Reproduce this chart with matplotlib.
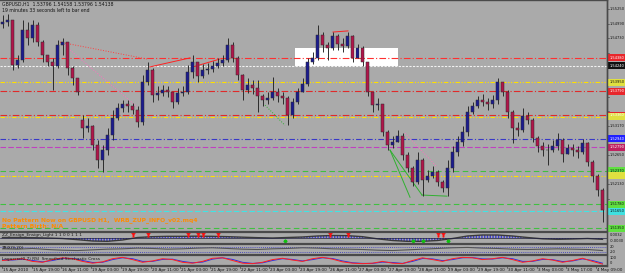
import matplotlib
matplotlib.use('Agg')
import matplotlib.pyplot as plt
from matplotlib.patches import Rectangle
from matplotlib.transforms import blended_transform_factory
from matplotlib.lines import Line2D

# ---------------- data ----------------
title_line = "GBPUSD,H1  1.53796 1.54158 1.53796 1.54138"
timer_line = "19 minutes 33 seconds left to bar end"
info_line1 = "No Pattern Now on GBPUSD H1,  WRB_ZUP_INFO_v02.mq4"
info_line2 = "Pattern Birth: N/A"

first_open = 1.5498
gap_opens = {16: 1.5327}

closes = [1.5502, 1.5505, 1.5425, 1.5434, 1.5488, 1.5473, 1.5496, 1.5466, 1.5443, 1.5431,
          1.5424, 1.5461, 1.5466, 1.5420, 1.5402, 1.5377, 1.5313, 1.5317, 1.5283, 1.5256,
          1.5274, 1.5301, 1.5331, 1.5349, 1.5356, 1.5352, 1.5345, 1.5324, 1.5395, 1.5416,
          1.5372, 1.5375, 1.5381, 1.5377, 1.5359, 1.5375, 1.5377, 1.5413, 1.5431, 1.5406,
          1.5416, 1.5418, 1.5424, 1.5429, 1.5434, 1.5461, 1.5438, 1.5407, 1.5381, 1.5390,
          1.5384, 1.5370, 1.5363, 1.5367, 1.5377, 1.5370, 1.5367, 1.5336, 1.5359, 1.5377,
          1.5391, 1.5431, 1.5438, 1.5479, 1.5461, 1.5456, 1.5477, 1.5463, 1.5459, 1.5477,
          1.5438, 1.5456, 1.5431, 1.5377, 1.5354, 1.5356, 1.5306, 1.5283, 1.5288, 1.5299,
          1.5265, 1.5242, 1.5217, 1.5256, 1.5221, 1.5228, 1.5235, 1.5217, 1.5206, 1.5242,
          1.5270, 1.5288, 1.5306, 1.5342, 1.5352, 1.5363, 1.5359, 1.5356, 1.5363, 1.5395,
          1.5377, 1.5342, 1.5313, 1.5310, 1.5335, 1.5327, 1.5295, 1.5281, 1.5274, 1.5274,
          1.5281, 1.5292, 1.5267, 1.5278, 1.5274, 1.5270, 1.5286, 1.5253, 1.5228, 1.5203,
          1.5167]
highs = [1.5514, 1.5516, 1.5479, 1.5443, 1.5505, 1.5502, 1.5505, 1.5502, 1.5470, 1.5443,
         1.5438, 1.5470, 1.5473, 1.5461, 1.5424, 1.5402, 1.5336, 1.5331, 1.5318, 1.5292,
         1.5283, 1.5313, 1.5345, 1.5358, 1.5363, 1.5363, 1.5358, 1.5352, 1.5407, 1.5431,
         1.5420, 1.5388, 1.5390, 1.5388, 1.5377, 1.5384, 1.5388, 1.5425, 1.5443, 1.5431,
         1.5427, 1.5429, 1.5432, 1.5438, 1.5443, 1.5473, 1.5466, 1.5441, 1.5409, 1.5402,
         1.5399, 1.5399, 1.5374, 1.5377, 1.5404, 1.5384, 1.5377, 1.5370, 1.5367, 1.5384,
         1.5402, 1.5438, 1.5448, 1.5496, 1.5484, 1.5466, 1.5484, 1.5480, 1.5473, 1.5484,
         1.5479, 1.5463, 1.5459, 1.5431, 1.5377, 1.5367, 1.5356, 1.5310, 1.5299, 1.5310,
         1.5304, 1.5270, 1.5246, 1.5270, 1.5260, 1.5238, 1.5246, 1.5238, 1.5221, 1.5256,
         1.5281, 1.5299, 1.5317, 1.5352, 1.5359, 1.5370, 1.5374, 1.5367, 1.5372, 1.5402,
         1.5391, 1.5381, 1.5345, 1.5324, 1.5349, 1.5342, 1.5331, 1.5299, 1.5288, 1.5285,
         1.5292, 1.5304, 1.5295, 1.5285, 1.5285, 1.5281, 1.5294, 1.5288, 1.5256, 1.5231,
         1.5206]
lows = [1.5491, 1.5495, 1.5416, 1.5420, 1.5431, 1.5461, 1.5466, 1.5459, 1.5431, 1.5424,
        1.5381, 1.5420, 1.5443, 1.5407, 1.5390, 1.5372, 1.5295, 1.5306, 1.5274, 1.5242,
        1.5235, 1.5265, 1.5292, 1.5327, 1.5342, 1.5342, 1.5338, 1.5315, 1.5318, 1.5390,
        1.5359, 1.5363, 1.5370, 1.5368, 1.5349, 1.5356, 1.5370, 1.5374, 1.5402, 1.5395,
        1.5402, 1.5409, 1.5413, 1.5420, 1.5424, 1.5431, 1.5431, 1.5399, 1.5363, 1.5375,
        1.5374, 1.5342, 1.5352, 1.5356, 1.5363, 1.5359, 1.5356, 1.5318, 1.5331, 1.5356,
        1.5377, 1.5388, 1.5427, 1.5434, 1.5448, 1.5434, 1.5452, 1.5452, 1.5448, 1.5456,
        1.5431, 1.5438, 1.5424, 1.5370, 1.5342, 1.5345, 1.5299, 1.5274, 1.5278, 1.5288,
        1.5256, 1.5235, 1.5210, 1.5213, 1.5192, 1.5217, 1.5224, 1.5210, 1.5199, 1.5192,
        1.5235, 1.5263, 1.5281, 1.5299, 1.5338, 1.5349, 1.5352, 1.5345, 1.5349, 1.5356,
        1.5370, 1.5331, 1.5286, 1.5299, 1.5306, 1.5320, 1.5288, 1.5270, 1.5263, 1.5247,
        1.5270, 1.5274, 1.5253, 1.5267, 1.5263, 1.5260, 1.5267, 1.5246, 1.5217, 1.5192,
        1.5146]

level_prices = [1.5438, 1.5424, 1.5395, 1.5379, 1.5336, 1.5333, 1.5294, 1.5279,
                1.5237, 1.5228, 1.5178, 1.5165, 1.5135]
level_colors = ['#ff3030', '#f2f2f2', '#ffe000', '#e02a2a', '#e02a2a', '#ffe000', '#3838c8',
                '#c040c0', '#40c040', '#ffe000', '#40c040', '#40e4e4', '#40c040']
level_box_colors = ['#e8262b', '#101010', '#e0e040', '#e8262b', '#e8262b', '#e0e040', '#2020ff',
                    '#c02060', '#60e040', '#e0e040', '#60e040', '#40e0e0', '#60e040']
level_styles = [(0, (6, 2, 1, 2)), (0, (2, 1.2)), (0, (4, 1.5, 1, 1.5, 1, 1.5)), (0, (6, 2, 1, 2)),
                (0, (6, 2, 1, 2)), (0, (4, 1.5, 1, 1.5, 1, 1.5)), (0, (5, 2, 1, 2)), (0, (5, 2)),
                (0, (5, 3)), (0, (4, 1.5, 1, 1.5, 1, 1.5)), (0, (5, 3)), (0, (5, 2)), (0, (5, 3))]

# trend lines: (x0, p0, x1, p1, color, style)
trend_lines = [
    (11.5, 1.5466, 28.9, 1.5436, '#ff4040', ':'),
    (11.9, 1.5464, 26.9, 1.5351, '#ff70c0', ':'),
    (29.5, 1.5422, 37.5, 1.5438, '#ff2020', '-'),
    (38.1, 1.5422, 43.5, 1.5436, '#ff2020', '-'),
    (66.1, 1.5484, 69.1, 1.5486, '#ff2020', '-'),
    (52.5, 1.5354, 56.5, 1.5318, '#30b030', ':'),
    (77.5, 1.5274, 81.5, 1.5190, '#30b030', '-'),
    (77.5, 1.5274, 83.9, 1.5194, '#30b030', '-'),
    (83.9, 1.5194, 88.9, 1.5192, '#30b030', '-'),
    (80.5, 1.5304, 86.9, 1.5244, '#ff70c0', ':'),
]
zone_bars = (58.5, 79.1)
zone_prices = (1.5424, 1.5456)

price_ticks = [1.5525, 1.5499, 1.5473, 1.5447, 1.5421, 1.5395, 1.5369, 1.5343,
               1.5317, 1.5291, 1.5265, 1.5239, 1.5213, 1.5187, 1.5161]

time_labels = ["15 Apr 2010", "15 Apr 19:00", "16 Apr 11:00", "19 Apr 03:00", "19 Apr 19:00",
               "20 Apr 11:00", "21 Apr 03:00", "21 Apr 19:00", "22 Apr 11:00", "23 Apr 03:00",
               "23 Apr 19:00", "26 Apr 11:00", "27 Apr 03:00", "27 Apr 19:00", "28 Apr 11:00",
               "29 Apr 03:00", "29 Apr 19:00", "30 Apr 11:00", "3 May 03:00", "3 May 17:00",
               "4 May 09:00"]

# indicator 1 (41 points, every 3 bars)
osc1 = [0.3, 0.3, 0.2, 0.0, -0.3, -1.0, -1.8, -2.0, -1.2, 0.3, 0.8, 1.0, 1.0, 1.1, 1.0,
        0.8, 0.5, 0.2, 0.0, 0.3, 0.6, 1.2, 1.5, 1.4, 0.8, -0.5, -1.5, -2.0, -2.0, -1.5,
        -0.3, 1.2, 1.8, 1.8, 1.2, 0.3, -0.5, -0.8, -0.6, -0.3, -0.8]
red_marks = [26, 29, 37, 39, 40, 43, 65.5, 69, 87, 88]
green_marks = [56.5, 82, 84, 89]

# indicator 2 (41 points)
trix = [0.2, 0.1, 0.3, 0.0, -0.2, -0.3, -0.1, 0.1, 0.2, 0.4, 0.3, 0.1, 0.2, 0.4, 0.5,
        0.3, 0.1, 0.0, 0.2, 0.3, 0.5, 0.4, 0.2, 0.1, 0.0, -0.2, -0.3, -0.1, 0.1, 0.3,
        0.5, 0.6, 0.4, 0.3, 0.1, 0.0, 0.1, 0.2, 0.1, 0.0, -0.3]

# indicator 3 (61 points, every 2 bars)
osc3_red = [50, 60, 70, 40, 30, 60, 80, 70, 40, 20, 35, 70, 85, 60, 30, 45, 70, 60, 30, 20,
            40, 75, 80, 50, 20, 15, 30, 60, 75, 55, 40, 70, 85, 65, 35, 20, 15, 20, 40, 20,
            15, 50, 80, 60, 40, 70, 85, 80, 60, 70, 85, 60, 30, 45, 70, 55, 30, 50, 75, 40, 10]
osc3_blue = [55, 55, 65, 50, 35, 50, 72, 74, 50, 28, 30, 60, 80, 70, 40, 40, 62, 65, 40, 25,
             32, 65, 80, 62, 30, 18, 24, 50, 70, 62, 45, 60, 80, 72, 45, 25, 18, 18, 32, 28,
             18, 40, 72, 68, 48, 60, 80, 82, 68, 66, 80, 70, 40, 40, 62, 60, 38, 45, 68, 50, 20]

# ---------------- drawing ----------------
W, H = 625, 273
BG = '#aaaaaa'
UP = '#1c1c8e'
DN = '#b0164a'
WICK = '#2c2c2c'
SEP = '#4a4a4a'
TXT = '#141414'
AXFS = 2.6

fig = plt.figure(figsize=(W / 100, H / 100), dpi=100, facecolor=BG)


def rect(x0, y0, x1, y1):
    return [x0 / W, 1 - y1 / H, (x1 - x0) / W, (y1 - y0) / H]


def fy(y):
    return 1 - y / H


def fx(x):
    return x / W


ax = fig.add_axes(rect(0, 0, 607, 231))
ax.set_facecolor(BG)
n = len(closes)
ax.set_xlim(-0.5, 120.9)
ax.set_ylim(1.5130, 1.5541)
for s in ['left', 'bottom']:
    ax.spines[s].set_visible(False)
for s in ['top', 'right']:
    ax.spines[s].set_color(SEP)
    ax.spines[s].set_linewidth(1.0)
ax.set_xticks([])
ax.set_yticks([])

# zone rectangle
ax.add_patch(Rectangle((zone_bars[0], zone_prices[0]), zone_bars[1] - zone_bars[0],
                       zone_prices[1] - zone_prices[0], fc='white', ec='none', zorder=1))

# horizontal levels
for p, c, ls in zip(level_prices, level_colors, level_styles):
    ax.axhline(p, color=c, lw=0.8, ls=ls, zorder=2)

# trend lines
for x0, p0, x1, p1, c, ls in trend_lines:
    ax.plot([x0, x1], [p0, p1], color=c, lw=0.7, ls=ls, zorder=3)

# candles
opens = [first_open] + closes[:-1]
for k, v in gap_opens.items():
    opens[k] = v
for i in range(n):
    o, c, hi, lo = opens[i], closes[i], highs[i], lows[i]
    ax.vlines(i, lo, hi, color=WICK, lw=0.7, zorder=4)
    col = UP if c >= o else DN
    bot = min(o, c)
    hgt = max(abs(c - o), 0.00010)
    ax.add_patch(Rectangle((i - 0.32, bot), 0.64, hgt, fc=col, ec=WICK, lw=0.35, zorder=5))

# right price axis
tr = blended_transform_factory(ax.transAxes, ax.transData)
bh = 0.00125
for p in price_ticks:
    ax.plot([1.0, 1.004], [p, p], transform=tr, color=SEP, lw=0.5, clip_on=False)
    if min(abs(p - q) for q in level_prices) < 0.0012:
        continue  # covered by a coloured level box, as in the terminal
    ax.text(1.005, p, f"{p:.5f}", transform=tr, fontsize=AXFS, color=TXT,
            va='center', ha='left', clip_on=False)
shown = []
for p, bc in zip(level_prices, level_box_colors):
    ax.add_patch(Rectangle((1.002, p - bh / 2), 0.028, bh, transform=tr, fc=bc, ec='none',
                           clip_on=False, zorder=6))
    if any(abs(p - q) < 0.0010 for q in shown):
        continue
    shown.append(p)
    light = bc in ('#e0e040', '#60e040', '#40e0e0')
    ax.text(1.005, p, f"{p:.5f}", transform=tr, fontsize=AXFS,
            color='#101010' if light else 'white', va='center', ha='left',
            clip_on=False, zorder=7)

# overlay texts
fig.text(fx(2), fy(4.5), title_line, fontsize=3.3, color=TXT, va='center', ha='left')
fig.text(fx(2), fy(10.5), timer_line, fontsize=3.3, color=TXT, va='center', ha='left')
fig.text(fx(2), fy(220.5), info_line1, fontsize=4.3, color='#ff8c00', fontweight='bold',
         va='center', ha='left')
fig.text(fx(2), fy(226.5), info_line2, fontsize=4.3, color='#ff8c00', fontweight='bold',
         va='center', ha='left')

# ---------- sub panel 1 ----------
xs41 = [3 * k for k in range(len(osc1))]
a1 = fig.add_axes(rect(0, 233, 607, 243))
a1.set_facecolor(BG)
a1.set_xlim(-0.5, 120.9)
a1.set_ylim(-3.0, 3.0)
a1.fill_between(xs41, 0, osc1, facecolor='none', edgecolor='#3a3ad0', hatch='||||||', lw=0)
a1.plot(xs41, osc1, color='#3a3a3a', lw=1.0)
a1.axhline(0, color='#202040', lw=0.5)
a1.plot(red_marks, [2.2] * len(red_marks), ls='none', marker='$\u2191$', ms=3.5, color='#ff1010')
a1.plot(green_marks, [-2.2] * len(green_marks), ls='none', marker='$\u2191$', ms=3.5, color='#10c010')
a1.text(0.003, 0.8, "ZZ_Ensign_Ensign_Light 1 1 0 0 1 1 1", transform=a1.transAxes,
        fontsize=3.1, color=TXT, va='center')
a1.text(1.005, 0.75, "0.0032", transform=a1.transAxes, fontsize=AXFS, color=TXT, va='center', clip_on=False)
a1.text(1.005, 0.25, "-0.0030", transform=a1.transAxes, fontsize=AXFS, color=TXT, va='center', clip_on=False)

# ---------- sub panel 2 ----------
a2 = fig.add_axes(rect(0, 245, 607, 254))
a2.set_facecolor(BG)
a2.set_xlim(-0.5, 120.9)
a2.set_ylim(-1.3, 1.3)
a2.axhline(0.8, color='#3030c0', lw=0.6, ls=(0, (1, 1.5)))
a2.axhline(-0.8, color='#3030c0', lw=0.6, ls=(0, (1, 1.5)))
a2.plot(xs41, trix, color='#555555', lw=0.8)
a2.text(0.003, 0.72, "TRIX(9,20)", transform=a2.transAxes, fontsize=3.1, color=TXT, va='center')
a2.text(1.005, 0.75, "20", transform=a2.transAxes, fontsize=AXFS, color=TXT, va='center', clip_on=False)
a2.text(1.005, 0.25, "-20", transform=a2.transAxes, fontsize=AXFS, color=TXT, va='center', clip_on=False)

# ---------- sub panel 3 ----------
xs61 = [2 * k for k in range(len(osc3_red))]
a3 = fig.add_axes(rect(0, 256, 607, 265))
a3.set_facecolor(BG)
a3.set_xlim(-0.5, 120.9)
a3.set_ylim(0, 100)
a3.plot(xs61, osc3_blue, color='#3030e0', lw=0.7)
a3.plot(xs61, osc3_red, color='#ff2020', lw=0.7)
a3.text(0.003, 0.65, "Laguerre(0.7) RSI  Smoothed Stochastic Cross", transform=a3.transAxes,
        fontsize=3.1, color=TXT, va='center')
a3.text(1.005, 0.8, "100", transform=a3.transAxes, fontsize=AXFS, color=TXT, va='center', clip_on=False)
a3.text(1.005, 0.2, "0", transform=a3.transAxes, fontsize=AXFS, color=TXT, va='center', clip_on=False)

for a in (a1, a2, a3):
    a.set_xticks([])
    a.set_yticks([])
    for s in a.spines.values():
        s.set_visible(False)
    a.spines['right'].set_visible(True)
    a.spines['right'].set_color(SEP)

# separators
for y in (232, 244, 255, 265.5):
    fig.add_artist(Line2D([0, 607 / W], [fy(y), fy(y)], color=SEP, lw=1.6))
fig.add_artist(Line2D([fx(607), fx(607)], [fy(0), fy(266)], color=SEP, lw=1.0))

# time axis
for k, lab in enumerate(time_labels):
    x = 2 + 29.7 * k
    fig.text(fx(x + 1), fy(269.5), lab, fontsize=3.0, color=TXT, va='center', ha='left')
    fig.add_artist(Line2D([fx(x), fx(x)], [fy(266), fy(268)], color=SEP, lw=0.5))

fig.savefig('out.png', dpi=100, facecolor=BG)
